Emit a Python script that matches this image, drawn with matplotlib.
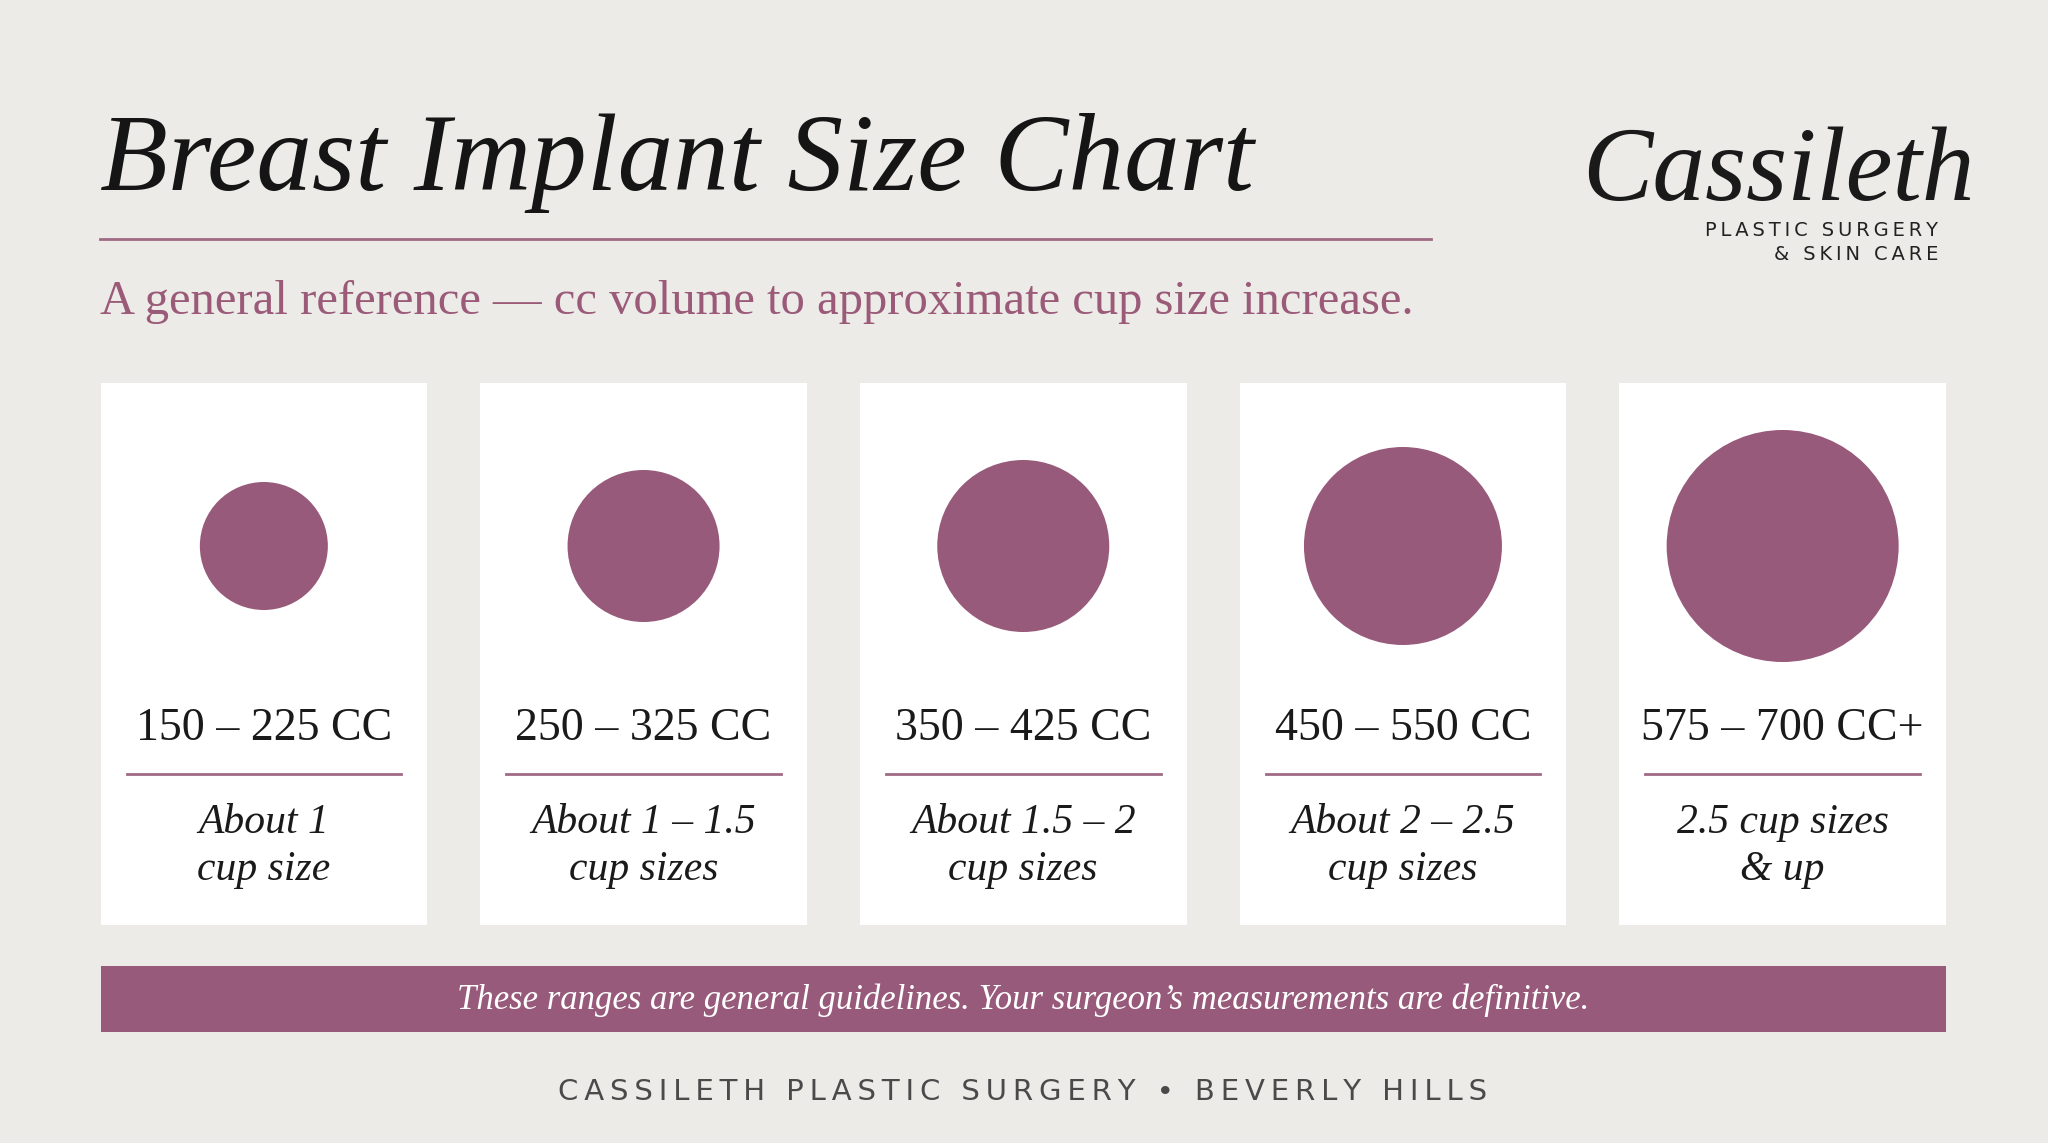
import matplotlib.pyplot as plt
from matplotlib.patches import Circle, Rectangle

# chart content
ranges = ["150 – 225 CC", "250 – 325 CC", "350 – 425 CC", "450 – 550 CC", "575 – 700 CC+"]
cup_line1 = ["About 1", "About 1 – 1.5", "About 1.5 – 2", "About 2 – 2.5", "2.5 cup sizes"]
cup_line2 = ["cup size", "cup sizes", "cup sizes", "cup sizes", "& up"]
circle_radius = [64, 76, 86, 99, 116]

bg = "#ecebe8"
plum = "#985a7a"
serif = ["Liberation Serif", "DejaVu Serif"]

fig = plt.figure(figsize=(20.48, 11.43), dpi=100, facecolor=bg)
ax = fig.add_axes([0, 0, 1, 1])
ax.set_xlim(0, 2048)
ax.set_ylim(1143, 0)
ax.axis("off")
ax.set_facecolor(bg)

ax.text(100, 190, "Breast Implant Size Chart", family=serif, style="italic",
        fontsize=80, color="#151515", va="baseline")
ax.plot([100, 1431], [239, 239], color="#a06a85", lw=2)
ax.text(100, 302, "A general reference — cc volume to approximate cup size increase.",
        family=serif, fontsize=35, color="#9a5a78", va="center")

# logo
ax.text(1778, 200, "Cassileth", family=serif, style="italic", fontsize=76,
        color="#1a1a1a", ha="center", va="baseline")
ax.text(1938, 230, "\u2009".join("PLASTIC SURGERY"), family="DejaVu Sans", fontsize=14,
        color="#222222", ha="right", va="center")
ax.text(1938, 255, "\u2009".join("& SKIN CARE"), family="DejaVu Sans", fontsize=14,
        color="#222222", ha="right", va="center")

card_w, card_top, card_bot = 326.5, 383, 925
for i in range(len(ranges)):
    x0 = 100.6 + i * 379.7
    cx = x0 + card_w / 2
    ax.add_patch(Rectangle((x0, card_top), card_w, card_bot - card_top,
                           facecolor="white", edgecolor="none"))
    ax.add_patch(Circle((cx, 546), circle_radius[i], facecolor=plum, edgecolor="none"))
    ax.text(cx, 729, ranges[i], family=serif, fontsize=33, color="#1a1a1a",
            ha="center", va="center")
    ax.plot([x0 + 26, x0 + card_w - 26], [774, 774], color="#a06a85", lw=2)
    ax.text(cx, 823, cup_line1[i], family=serif, style="italic", fontsize=30,
            color="#1a1a1a", ha="center", va="center")
    ax.text(cx, 870, cup_line2[i], family=serif, style="italic", fontsize=30,
            color="#1a1a1a", ha="center", va="center")

ax.add_patch(Rectangle((100.6, 966), 1845.5, 66, facecolor=plum, edgecolor="none"))
ax.text(1023, 1000, "These ranges are general guidelines. Your surgeon’s measurements are definitive.",
        family=serif, style="italic", fontsize=25, color="white", ha="center", va="center")

footer = "CASSILETH PLASTIC SURGERY • BEVERLY HILLS"
ax.text(1023, 1092, "\u2009".join(footer), family="DejaVu Sans", fontsize=21,
        color="#4a4a4a", ha="center", va="center")

fig.savefig("out.png", dpi=100, facecolor=bg)
